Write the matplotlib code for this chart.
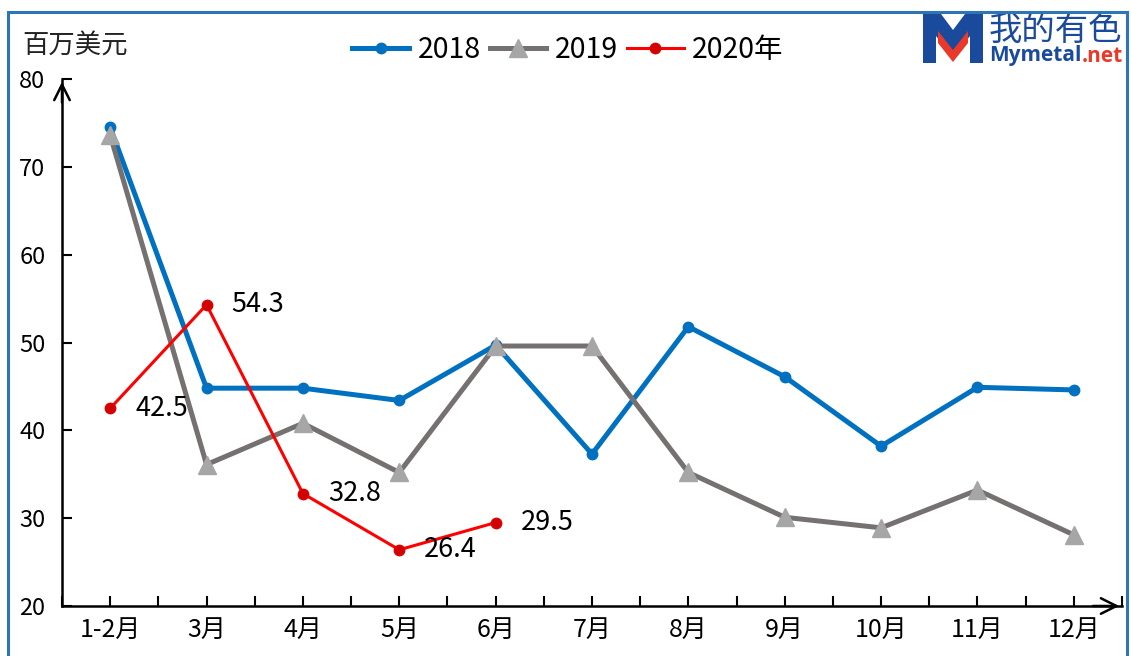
import matplotlib
matplotlib.use("Agg")
import matplotlib.pyplot as plt
from matplotlib.patches import Rectangle, Polygon

plt.rcParams['font.family'] = ['Noto Sans CJK SC', 'DejaVu Sans']

categories = ["1-2月", "3月", "4月", "5月", "6月", "7月", "8月", "9月", "10月", "11月", "12月"]
s2018 = [74.5, 44.8, 44.8, 43.4, 49.7, 37.3, 51.8, 46.1, 38.2, 44.9, 44.6]
s2019 = [73.6, 36.1, 40.8, 35.2, 49.6, 49.6, 35.2, 30.1, 28.9, 33.2, 28.1]
s2020 = [42.5, 54.3, 32.8, 26.4, 29.5]
yticks = [20, 30, 40, 50, 60, 70, 80]

W, H = 1131, 656
fig = plt.figure(figsize=(W / 100, H / 100), dpi=100)

def fx(px):
    return px / W

def fy(py):
    return 1 - py / H

# outer frame
fig.patches.append(Rectangle((fx(8), fy(700)), fx(1127) - fx(8), fy(12) - fy(700),
                             transform=fig.transFigure, fill=False,
                             edgecolor='#2E75B6', linewidth=2.2, zorder=0))

ax = fig.add_axes([fx(62), fy(606), fx(1122) - fx(62), fy(79) - fy(606)])
x = list(range(len(categories)))

l1, = ax.plot(x, s2018, color='#0070C0', lw=3.6, marker='o', ms=7.5,
              markerfacecolor='#0070C0', markeredgecolor='#0070C0', zorder=3,
              solid_joinstyle='round', label='2018')
l2, = ax.plot(x, s2019, color='#767171', lw=3.6, marker='^', ms=13,
              markerfacecolor='#A6A6A6', markeredgecolor='#A6A6A6', zorder=4,
              solid_joinstyle='round', label='2019')
l3, = ax.plot(range(len(s2020)), s2020, color='#FF0000', lw=2.2, marker='o', ms=7.5,
              markerfacecolor='#D00000', markeredgecolor='#E00000', zorder=5,
              label='2020年')

for i, v in enumerate(s2020):
    ax.annotate(f"{v:.1f}", (i, v), xytext=(18, 0), textcoords='offset points',
                ha='left', va='center', fontsize=19.5, color='black', zorder=6)

ax.set_xlim(-0.5, 10.5)
ax.set_ylim(20, 80)
ax.set_yticks(yticks)
ax.set_xticks(x)
ax.set_xticklabels(categories)
ax.set_xticks([i + 0.5 for i in range(-1, len(categories))], minor=True)
ax.tick_params(axis='y', direction='in', length=7, width=1.5, pad=12, labelsize=17)
ax.tick_params(axis='x', which='both', direction='in', length=7, width=1.5, pad=8, labelsize=18)
for sp in ['top', 'right']:
    ax.spines[sp].set_visible(False)
for sp in ['left', 'bottom']:
    ax.spines[sp].set_linewidth(1.8)
    ax.spines[sp].set_color('black')
ax.patch.set_alpha(0)

# arrow heads
ax.annotate('', xy=(1.0, 0), xytext=(0.97, 0), xycoords='axes fraction',
            arrowprops=dict(arrowstyle='->', lw=1.8, color='black', mutation_scale=28),
            annotation_clip=False)
ax.annotate('', xy=(0, 1.0), xytext=(0, 0.95), xycoords='axes fraction',
            arrowprops=dict(arrowstyle='->', lw=1.8, color='black', mutation_scale=28),
            annotation_clip=False)

fig.text(fx(22), fy(46), "百万美元", fontsize=19, ha='left', va='center', color='#222222')

leg = fig.legend(handles=[l1, l2, l3], loc='center', bbox_to_anchor=(fx(568), fy(50)),
                 ncol=3, frameon=False, fontsize=20.5, handlelength=2.0, columnspacing=0.3,
                 handletextpad=0.3, borderpad=0.0)

# logo
lax = fig.add_axes([fx(918), fy(70), fx(1131) - fx(918), fy(8) - fy(70)])
lax.set_xlim(918, 1131)
lax.set_ylim(70, 8)
lax.axis('off')
lax.add_patch(Rectangle((918, 8), 207, 62, facecolor='white', edgecolor='none'))
lax.add_patch(Polygon([(923, 63), (923, 14), (941, 14), (953, 30), (965, 14), (983, 14),
                       (983, 63), (970, 63), (970, 36), (953, 58), (936, 36), (936, 63)],
                      closed=True, facecolor='#1A4A9C', edgecolor='none'))
lax.add_patch(Polygon([(938, 31), (953, 50), (968, 31), (968, 43), (953, 62), (938, 43)],
                      closed=True, facecolor='#E8392B', edgecolor='none'))
lax.text(989, 30, "我的有色", fontsize=24, color='#1A4A9C', ha='left', va='center')
t1 = lax.text(989, 56, "Mymetal", fontsize=15, color='#1A4A9C', ha='left', va='center',
              fontweight='bold', family=['Open Sans', 'DejaVu Sans'])
fig.canvas.draw()
bb = t1.get_window_extent(renderer=fig.canvas.get_renderer())
xend = lax.transData.inverted().transform((bb.x1, bb.y0))[0]
lax.text(xend, 56, ".net", fontsize=15, color='#E8392B', ha='left', va='center',
         fontweight='bold', family=['Open Sans', 'DejaVu Sans'])
lax.plot([1127, 1127], [12, 70], color='#2E75B6', lw=2.2)

fig.savefig("out.png", dpi=100)
